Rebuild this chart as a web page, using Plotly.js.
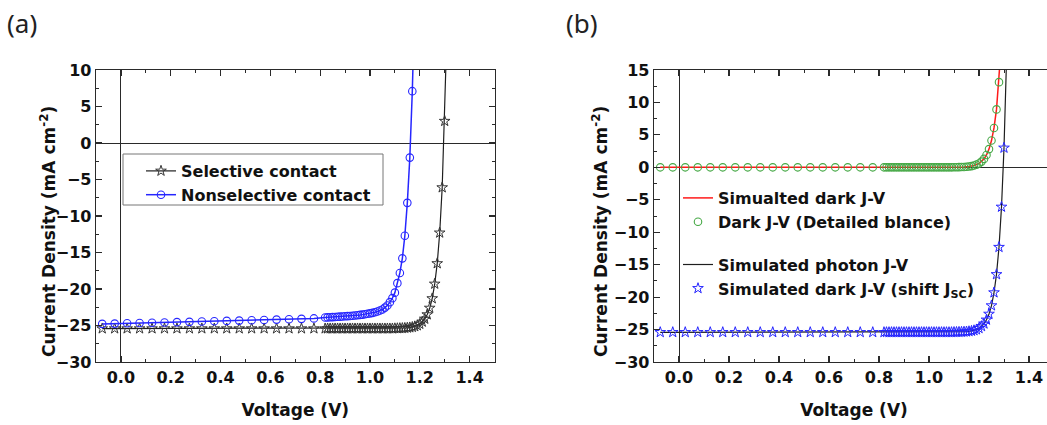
<!DOCTYPE html>
<html>
<head>
<meta charset="utf-8">
<script src="https://cdn.plot.ly/plotly-3.0.1.min.js"></script>
<style>
  html, body { margin: 0; padding: 0; overflow: hidden; background: #fff; }
  #chart { width: 1055px; height: 425px; }
</style>
</head>
<body>
<div id="chart"></div>
<script>
// ---------------- data ----------------
// Panel (a): selective contact (also panel (b) photon J-V / shifted dark J-V)
const vSelective = [-0.075,-0.025,0.025,0.075,0.125,0.175,0.225,0.275,0.325,0.375,0.425,0.475,0.525,0.575,0.625,0.675,0.725,0.775,
  0.82,0.83,0.84,0.85,0.86,0.87,0.88,0.89,0.90,0.91,0.92,0.93,0.94,0.95,0.96,0.97,0.98,0.99,1.00,1.01,1.02,1.03,1.04,1.05,1.06,1.07,1.08,1.09,
  1.10,1.11,1.12,1.13,1.14,1.15,1.16,1.17,1.18,1.19,1.20,1.21,1.22,1.23,1.24,1.25,1.26,1.27,1.28,1.29,1.30,1.31];
const jSelective = [-25.42,-25.42,-25.42,-25.42,-25.42,-25.42,-25.42,-25.42,-25.42,-25.42,-25.42,-25.42,-25.42,-25.42,-25.42,-25.42,-25.42,-25.42,
  -25.42,-25.42,-25.42,-25.42,-25.42,-25.42,-25.42,-25.42,-25.42,-25.42,-25.42,-25.42,-25.42,-25.42,-25.42,-25.42,-25.42,-25.42,-25.42,-25.42,-25.42,-25.42,-25.42,-25.42,-25.42,-25.42,-25.42,-25.42,
  -25.40,-25.39,-25.38,-25.37,-25.35,-25.32,-25.28,-25.22,-25.13,-25.00,-24.80,-24.50,-24.10,-23.50,-22.60,-21.30,-19.30,-16.50,-12.30,-6.10,3.00,16.40];

// Panel (a): nonselective contact
const vNonselective = [-0.075,-0.025,0.025,0.075,0.125,0.175,0.225,0.275,0.325,0.375,0.425,0.475,0.525,0.575,0.625,0.675,0.725,0.775,
  0.82,0.83,0.84,0.85,0.86,0.87,0.88,0.89,0.90,0.91,0.92,0.93,0.94,0.95,0.96,0.97,0.98,0.99,1.00,1.01,1.02,1.03,1.04,1.05,1.06,1.07,1.08,1.09,
  1.10,1.11,1.12,1.13,1.14,1.15,1.16,1.17,1.18];
const jNonselective = [-24.78,-24.74,-24.70,-24.66,-24.62,-24.58,-24.54,-24.50,-24.46,-24.41,-24.37,-24.33,-24.28,-24.24,-24.19,-24.14,-24.09,-24.03,
  -23.91,-23.89,-23.87,-23.85,-23.83,-23.81,-23.79,-23.77,-23.74,-23.72,-23.69,-23.66,-23.63,-23.59,-23.55,-23.51,-23.46,-23.40,-23.34,-23.27,-23.18,-23.08,-22.95,-22.80,-22.55,-22.25,-21.80,-21.25,
  -20.50,-19.20,-17.80,-15.80,-12.70,-8.20,-2.00,7.10,20.00];

// Panel (b): dark J-V (detailed balance), green circles
const vDark = [-0.075,-0.025,0.025,0.075,0.125,0.175,0.225,0.275,0.325,0.375,0.425,0.475,0.525,0.575,0.625,0.675,0.725,0.775,
  0.82,0.83,0.84,0.85,0.86,0.87,0.88,0.89,0.90,0.91,0.92,0.93,0.94,0.95,0.96,0.97,0.98,0.99,1.00,1.01,1.02,1.03,1.04,1.05,1.06,1.07,1.08,1.09,
  1.10,1.11,1.12,1.13,1.14,1.15,1.16,1.17,1.18,1.19,1.20,1.21,1.22,1.23,1.24,1.25,1.26,1.27,1.28];
const jDark = [0,0,0,0,0,0,0,0,0,0,0,0,0,0,0,0,0,0,
  0,0,0,0,0,0,0,0,0,0,0,0,0,0,0,0,0,0,0,0,0,0,0,0,0,0,0,0,
  0.01,0.02,0.03,0.04,0.06,0.09,0.13,0.19,0.28,0.41,0.60,0.88,1.30,1.91,2.81,4.13,6.07,8.93,13.13];

// Panel (b): simulated dark J-V, red line
const vDarkSim = [-0.075,0.025,0.125,0.225,0.325,0.425,0.525,0.625,0.725,0.82,0.90,1.00,1.05,1.10,1.12,1.14,1.16,1.18,1.20,1.21,1.22,1.23,1.24,1.25,1.26,1.27,1.28,1.29,1.30];
const jDarkSim = [0,0,0,0,0,0,0,0,0,0,0,0,0,0.01,0.03,0.06,0.13,0.28,0.60,0.88,1.30,1.91,2.81,4.13,6.07,8.93,13.13,19.30,28.40];

// Labels
const xTitle = 'Voltage (V)';
const yTitle = 'Current Density (mA cm<sup>-2</sup>)';
const legendA = ['Selective contact', 'Nonselective contact'];
const legendB = ['Simualted dark J-V', 'Dark J-V (Detailed blance)', 'Simulated photon J-V', 'Simulated dark J-V (shift J<sub>SC</sub>)'];
const panelLabels = ['(a)', '(b)'];

// ---------------- styling ----------------
const W = 1055, H = 425;
const px = v => v / W;
const py = v => 1 - v / H;
const AX = '#2a2a2a';
const tickFont = {family: 'DejaVu Sans', size: 16, color: '#111', weight: 'bold'};
const titleFont = {family: 'DejaVu Sans', size: 17, color: '#111', weight: 'bold'};

function xAxis(domain, anchor) {
  return {
    domain: domain, anchor: anchor, range: [-0.1, 1.5],
    tick0: 0, dtick: 0.2, tickformat: '.1f',
    ticks: 'inside', ticklen: 6, tickwidth: 1.2, tickcolor: AX,
    minor: {ticks: 'inside', ticklen: 3, tickwidth: 1, tickcolor: AX, dtick: 0.1, tick0: 0, showgrid: false},
    showline: true, linecolor: AX, linewidth: 1.3, mirror: 'allticks',
    showgrid: false, zeroline: true, zerolinecolor: AX, zerolinewidth: 1,
    tickfont: tickFont,
    title: {text: xTitle, font: titleFont, standoff: 18}
  };
}
function yAxis(domain, anchor, range) {
  return {
    domain: domain, anchor: anchor, range: range,
    tick0: 0, dtick: 5,
    ticks: 'inside', ticklen: 6, tickwidth: 1.2, tickcolor: AX,
    minor: {ticks: 'inside', ticklen: 3, tickwidth: 1, tickcolor: AX, dtick: 2.5, tick0: 0, showgrid: false},
    showline: true, linecolor: AX, linewidth: 1.3, mirror: 'allticks',
    showgrid: false, zeroline: true, zerolinecolor: AX, zerolinewidth: 1,
    tickfont: tickFont
  };
}

const BLUE = '#2626ff';
const GREEN = '#45a845';
const RED = '#ff1a1a';
const BLACK = '#1e1e1e';

const traces = [
  {x: vSelective, y: jSelective, xaxis: 'x', yaxis: 'y', name: legendA[0], legend: 'legend',
   mode: 'lines+markers', line: {color: BLACK, width: 1.2},
   marker: {symbol: 'star-open', size: 8, color: '#333', line: {width: 1}}},
  {x: vNonselective, y: jNonselective, xaxis: 'x', yaxis: 'y', name: legendA[1], legend: 'legend',
   mode: 'lines+markers', line: {color: BLUE, width: 1.5},
   marker: {symbol: 'circle-open', size: 7.5, color: BLUE, line: {width: 1.1}}},

  {x: vDarkSim, y: jDarkSim, xaxis: 'x2', yaxis: 'y2', name: legendB[0], legend: 'legend2', legendgroup: 'b1',
   mode: 'lines', line: {color: RED, width: 1.5}},
  {x: vDark, y: jDark, xaxis: 'x2', yaxis: 'y2', name: legendB[1], legend: 'legend2', legendgroup: 'b1',
   mode: 'markers', marker: {symbol: 'circle-open', size: 7.5, color: GREEN, line: {width: 1.1}}},
  {x: vSelective, y: jSelective, xaxis: 'x2', yaxis: 'y2', name: legendB[2], legend: 'legend2', legendgroup: 'b2',
   mode: 'lines', line: {color: BLACK, width: 1.2}},
  {x: vSelective, y: jSelective, xaxis: 'x2', yaxis: 'y2', name: legendB[3], legend: 'legend2', legendgroup: 'b2',
   mode: 'markers', marker: {symbol: 'star-open', size: 8, color: BLUE, line: {width: 1}}}
];

const legendFont = {family: 'DejaVu Sans', size: 16, color: '#111', weight: 'bold'};

const layout = {
  width: W, height: H,
  margin: {l: 0, r: 0, t: 0, b: 0},
  paper_bgcolor: '#fff', plot_bgcolor: 'rgba(0,0,0,0)',
  showlegend: true,
  xaxis: xAxis([px(96), px(494.5)], 'y'),
  yaxis: yAxis([py(362), py(70)], 'x', [-30, 10]),
  xaxis2: xAxis([px(654), px(1054)], 'y2'),
  yaxis2: yAxis([py(362), py(70)], 'x2', [-30, 15]),
  legend: {x: px(141), y: py(154), xanchor: 'left', yanchor: 'top', bgcolor: 'rgba(0,0,0,0)',
           borderwidth: 0, font: legendFont, traceorder: 'normal'},
  legend2: {x: px(678), y: py(181), xanchor: 'left', yanchor: 'top', bgcolor: 'rgba(0,0,0,0)',
            borderwidth: 0, font: legendFont, traceorder: 'grouped', tracegroupgap: 19},
  shapes: [
    {type: 'rect', xref: 'paper', yref: 'paper', x0: px(123), x1: px(383), y0: py(154), y1: py(205),
     line: {color: '#777', width: 1}, fillcolor: 'rgba(0,0,0,0)', layer: 'above'}
  ],
  annotations: [
    {text: panelLabels[0], xref: 'paper', yref: 'paper', x: px(5), y: py(3), xanchor: 'left', yanchor: 'top',
     showarrow: false, font: {family: 'Noto Sans', size: 26, color: '#222'}},
    {text: panelLabels[1], xref: 'paper', yref: 'paper', x: px(564), y: py(3), xanchor: 'left', yanchor: 'top',
     showarrow: false, font: {family: 'Noto Sans', size: 26, color: '#222'}},
    {text: yTitle, xref: 'paper', yref: 'paper', x: px(48), y: py(232), xanchor: 'center', yanchor: 'middle',
     textangle: -90, showarrow: false, font: titleFont},
    {text: yTitle, xref: 'paper', yref: 'paper', x: px(600), y: py(232), xanchor: 'center', yanchor: 'middle',
     textangle: -90, showarrow: false, font: titleFont}
  ]
};

Plotly.newPlot('chart', traces, layout, {staticPlot: true, displayModeBar: false});
</script>
</body>
</html>
